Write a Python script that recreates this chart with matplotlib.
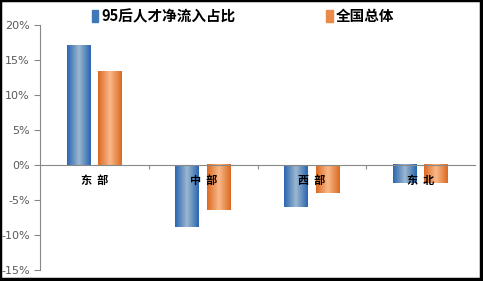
import matplotlib.pyplot as plt
import matplotlib.patches as mpatches
from matplotlib.colors import LinearSegmentedColormap
import numpy as np

plt.rcParams['font.family'] = ['Noto Sans CJK SC', 'DejaVu Sans']

# 数据
regions = ["东部", "中部", "西部", "东北"]
post95 = [17.1, -8.8, -6.0, -2.6]
national = [13.3, -6.5, -4.0, -2.6]
series_names = ["95后人才净流入占比", "全国总体"]
yticks = [-15, -10, -5, 0, 5, 10, 15, 20]

W, H = 483, 281
fig = plt.figure(figsize=(W / 100, H / 100), dpi=100)
ax = fig.add_axes([40 / W, 1 - 270 / H, 435 / W, 245 / H])

# 渐变色（两边深，中间浅）
blue_cm = LinearSegmentedColormap.from_list("b", ["#2a66b0", "#9cb8cf", "#2a66b0"])
orange_cm = LinearSegmentedColormap.from_list("o", ["#dc6a22", "#f9b98a", "#dc6a22"])
grad = np.linspace(0, 1, 64).reshape(1, -1)

bw = 0.22
off = 0.145
x = np.arange(len(regions))


def grad_bars(xs, vals, cmap):
    bars = ax.bar(xs, vals, bw, color='none', zorder=2)
    for b in bars:
        x0 = b.get_x()
        y0 = b.get_y()
        h = b.get_height()
        ax.imshow(grad, cmap=cmap, aspect='auto', zorder=3,
                  extent=(x0, x0 + b.get_width(), y0, y0 + h))
    return bars


grad_bars(x - off, post95, blue_cm)
grad_bars(x + off, national, orange_cm)

ax.set_xlim(-0.5, len(regions) - 0.5)
ax.set_ylim(-15, 20)
ax.set_yticks(yticks)
ax.set_yticklabels([f"{v}%" for v in yticks], color="#595959", fontsize=8,
                   family="DejaVu Sans")
ax.tick_params(axis='y', length=4, color="#888888", width=0.8)

ax.spines['top'].set_visible(False)
ax.spines['right'].set_visible(False)
ax.spines['left'].set_color("#888888")
ax.spines['bottom'].set_position(('data', 0))
ax.spines['bottom'].set_color("#888888")
ax.set_xticks([0.5, 1.5, 2.5])
ax.set_xticklabels([])
ax.tick_params(axis='x', length=3, color="#888888", direction='out')
ax.spines['bottom'].set_zorder(4)

for i, r in enumerate(regions):
    ax.text(i, -2.2, "  ".join(r), ha='center', va='center', fontsize=8,
            fontweight='bold', zorder=5)

# 图例
handles = [mpatches.Patch(color="#3f78b8"), mpatches.Patch(color="#e9894a")]
fig.legend(handles, series_names, loc='center', bbox_to_anchor=(0.503, 1 - 16 / H),
           ncol=2, frameon=False, handlelength=0.45, handleheight=0.8,
           handletextpad=0.2, columnspacing=6.2,
           prop={'weight': 'bold', 'size': 10.5})

# 黑色边框
fig.add_artist(mpatches.Rectangle((0, 0), 1, 1, transform=fig.transFigure,
                                  fill=False, edgecolor='black', linewidth=2.5))
fig.add_artist(plt.Line2D([1 - 2 / W, 1 - 2 / W], [0, 1], color='black',
                          linewidth=2.5, transform=fig.transFigure))
fig.add_artist(plt.Line2D([0, 1], [2 / H, 2 / H], color='black',
                          linewidth=2.5, transform=fig.transFigure))

fig.savefig("out.png", dpi=100)
